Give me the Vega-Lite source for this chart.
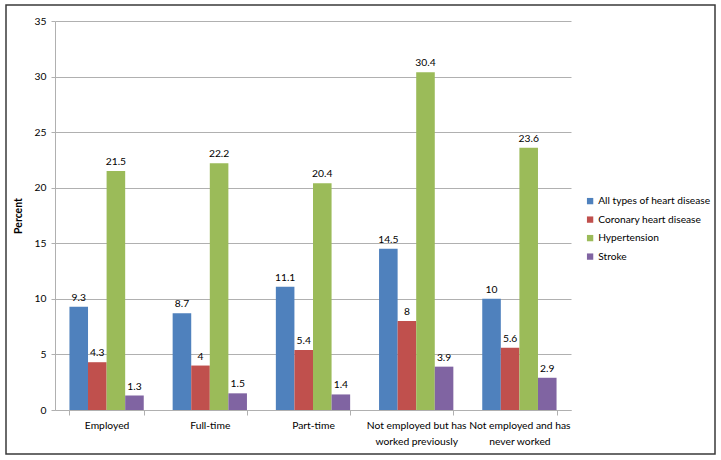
{
  "$schema": "https://vega.github.io/schema/vega-lite/v6.json",
  "width": 709,
  "height": 449,
  "autosize": {"type": "none"},
  "padding": {"left": 6, "top": 5, "right": 6, "bottom": 6},
  "background": "white",
  "config": {
    "view": {"stroke": "#3a3a3a", "strokeWidth": 1.5},
    "font": "Lato",
    "axis": {"labelFont": "Lato", "titleFont": "Lato", "labelColor": "#000", "titleColor": "#000", "labelFontSize": 10.3, "domainColor": "#b0b0b0", "tickColor": "#b0b0b0", "gridColor": "#b0b0b0"},
    "legend": {"labelFont": "Lato", "labelFontSize": 10.2, "labelColor": "#000"}
  },
  "data": {
    "values": [
      {"status": "Employed", "condition": "All types of heart disease", "percent": 9.3},
      {"status": "Employed", "condition": "Coronary heart disease", "percent": 4.3},
      {"status": "Employed", "condition": "Hypertension", "percent": 21.5},
      {"status": "Employed", "condition": "Stroke", "percent": 1.3},
      {"status": "Full-time", "condition": "All types of heart disease", "percent": 8.7},
      {"status": "Full-time", "condition": "Coronary heart disease", "percent": 4},
      {"status": "Full-time", "condition": "Hypertension", "percent": 22.2},
      {"status": "Full-time", "condition": "Stroke", "percent": 1.5},
      {"status": "Part-time", "condition": "All types of heart disease", "percent": 11.1},
      {"status": "Part-time", "condition": "Coronary heart disease", "percent": 5.4},
      {"status": "Part-time", "condition": "Hypertension", "percent": 20.4},
      {"status": "Part-time", "condition": "Stroke", "percent": 1.4},
      {"status": "Not employed but has worked previously", "condition": "All types of heart disease", "percent": 14.5},
      {"status": "Not employed but has worked previously", "condition": "Coronary heart disease", "percent": 8},
      {"status": "Not employed but has worked previously", "condition": "Hypertension", "percent": 30.4},
      {"status": "Not employed but has worked previously", "condition": "Stroke", "percent": 3.9},
      {"status": "Not employed and has never worked", "condition": "All types of heart disease", "percent": 10},
      {"status": "Not employed and has never worked", "condition": "Coronary heart disease", "percent": 5.6},
      {"status": "Not employed and has never worked", "condition": "Hypertension", "percent": 23.6},
      {"status": "Not employed and has never worked", "condition": "Stroke", "percent": 2.9}
    ]
  },
  "encoding": {
    "x": {
      "field": "status", "type": "nominal", "sort": null,
      "scale": {"range": [49, 565], "paddingInner": 0.28, "paddingOuter": 0.14},
      "axis": {
        "title": null, "labelAngle": 0, "offset": -44, "tickBand": "extent", "tickSize": 5, "labelPadding": 5,
        "labelLineHeight": 16,
        "labelExpr": "datum.label == 'Not employed but has worked previously' ? ['Not employed but has', 'worked previously'] : datum.label == 'Not employed and has never worked' ? ['Not employed and has', 'never worked'] : datum.label"
      }
    },
    "xOffset": {
      "field": "condition", "type": "nominal",
      "sort": ["All types of heart disease", "Coronary heart disease", "Hypertension", "Stroke"]
    },
    "y": {
      "field": "percent", "type": "quantitative",
      "scale": {"domain": [0, 35], "range": [405, 16], "nice": false},
      "axis": {
        "title": "Percent", "titleFontWeight": "bold", "titleFontSize": 10.5, "titlePadding": 11,
        "offset": -49, "values": [0, 5, 10, 15, 20, 25, 30, 35], "tickSize": 4, "labelPadding": 5, "grid": true
      }
    }
  },
  "layer": [
    {
      "mark": {"type": "bar"},
      "encoding": {
        "color": {
          "field": "condition", "type": "nominal",
          "scale": {
            "domain": ["All types of heart disease", "Coronary heart disease", "Hypertension", "Stroke"],
            "range": ["#4F81BD", "#C0504D", "#9BBB59", "#8064A2"]
          },
          "legend": {
            "title": null, "orient": "none", "legendX": 579, "legendY": 191,
            "symbolType": "square", "symbolSize": 40, "symbolStrokeWidth": 0, "padding": 0,
            "rowPadding": 7.5, "labelOffset": 3
          }
        }
      }
    },
    {
      "mark": {"type": "text", "baseline": "bottom", "dy": -4, "fontSize": 10.3, "color": "#000"},
      "encoding": {"text": {"field": "percent", "type": "quantitative"}}
    }
  ]
}
